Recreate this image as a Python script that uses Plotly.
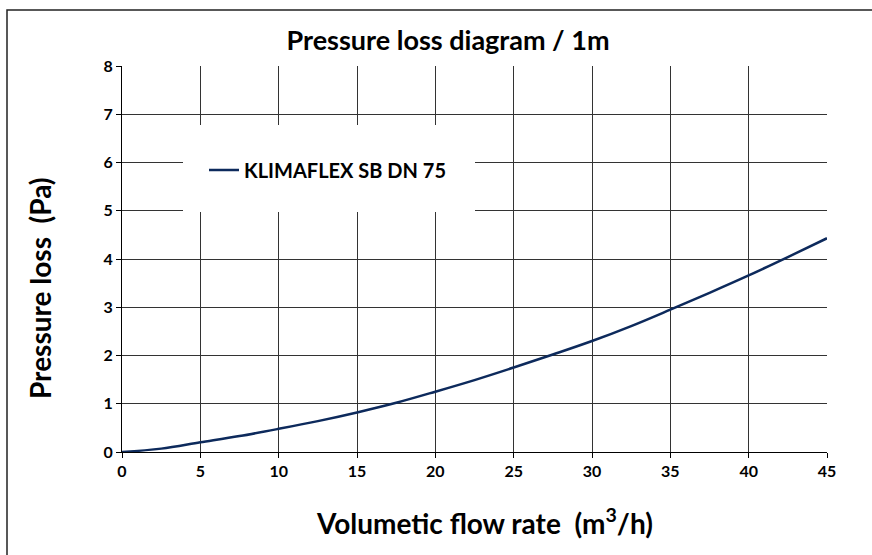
import plotly.graph_objects as go

flow = [0, 2.5, 5, 7.5, 10, 12.5, 15, 17.5, 20, 22.5, 25, 27.5, 30, 32.5, 35, 37.5, 40, 42.5, 45]
loss = [0, 0.07, 0.2, 0.33, 0.48, 0.64, 0.82, 1.02, 1.25, 1.49, 1.75, 2.02, 2.3, 2.61, 2.95, 3.3, 3.66, 4.04, 4.43]
x_ticks = [0, 5, 10, 15, 20, 25, 30, 35, 40, 45]
y_ticks = [0, 1, 2, 3, 4, 5, 6, 7, 8]
series_name = "KLIMAFLEX SB DN 75"
title_text = "Pressure loss diagram / 1m"
x_title = "Volumetic flow rate  (m<sup>3</sup>/h)"
y_title = "Pressure loss  (Pa)"

FONT = "Lato"
W, H = 872, 555
L, R, T, B = 122, 45, 66, 103
pw, ph = W - L - R, H - T - B

def px(xv):  # viewport pixel x -> paper
    return (xv - L) / pw

def py(yv):  # viewport pixel y -> paper
    return (H - B - yv) / ph

fig = go.Figure()
fig.add_trace(go.Scatter(
    x=flow, y=loss, mode="lines", name=f"<b>{series_name}</b>",
    line=dict(color="#0d2a5c", width=2.5, shape="spline"),
))

fig.update_layout(
    width=W, height=H,
    margin=dict(l=L, r=R, t=T, b=B),
    paper_bgcolor="white", plot_bgcolor="white",
    title=dict(text=f"<b>{title_text}</b>", x=448 / W, xanchor="center",
               y=1 - 41 / H, yanchor="middle",
               font=dict(family=FONT, size=27, color="black")),
    showlegend=True,
    legend=dict(x=px(204), y=py(170), xanchor="left", yanchor="middle",
                bgcolor="rgba(0,0,0,0)", font=dict(family=FONT, size=20, color="black"),
                itemwidth=30, tracegroupgap=0),
    xaxis=dict(range=[0, 45], tickvals=x_ticks, ticktext=[f"<b>{v}</b>" for v in x_ticks],
               showgrid=True, gridcolor="#333", gridwidth=1,
               showline=True, linecolor="black", linewidth=1,
               ticks="outside", ticklen=5, tickcolor="black",
               tickfont=dict(family=FONT, size=16, color="black"),
               zeroline=False, fixedrange=True),
    yaxis=dict(range=[0, 8], tickvals=y_ticks, ticktext=[f"<b>{v}</b>" for v in y_ticks],
               showgrid=True, gridcolor="#333", gridwidth=1,
               showline=True, linecolor="black", linewidth=1,
               ticks="outside", ticklen=5, tickcolor="black",
               tickfont=dict(family=FONT, size=16, color="black"),
               zeroline=False, fixedrange=True),
)

fig.add_annotation(text=f"<b>{x_title}</b>", xref="paper", yref="paper",
                   x=px(484), y=py(521), xanchor="center", yanchor="middle",
                   showarrow=False, font=dict(family=FONT, size=28, color="black"))
fig.add_annotation(text=f"<b>{y_title}</b>", xref="paper", yref="paper",
                   x=px(40), y=py(288), xanchor="center", yanchor="middle", textangle=-90,
                   showarrow=False, font=dict(family=FONT, size=28, color="black"))

# white gap behind the legend
fig.add_shape(type="rect", xref="paper", yref="paper",
              x0=px(183), x1=px(475), y0=py(212), y1=py(125),
              fillcolor="white", line=dict(width=0), layer="above")
# outer frame (left and top edges)
fig.add_shape(type="path", xref="paper", yref="paper",
              path=f"M {px(7)} {py(560)} L {px(7)} {py(10)} L {px(880)} {py(10)}",
              line=dict(color="#222", width=1.5), layer="above")

fig.write_html("out.html", config={"displayModeBar": False},
               post_script="document.body.style.margin='0';document.body.style.overflow='hidden';")
